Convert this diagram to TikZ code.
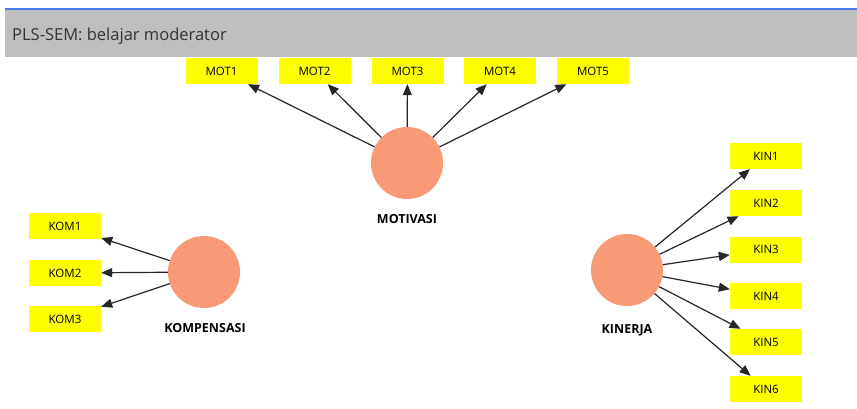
\documentclass[tikz,border=0pt]{standalone}
\usepackage{fontspec}
\setmainfont{Open Sans}
\usetikzlibrary{arrows.meta}
\definecolor{latentfill}{RGB}{249,154,118}
\definecolor{indfill}{RGB}{255,255,0}
\definecolor{barfill}{RGB}{190,190,190}
\definecolor{barline}{RGB}{70,120,230}
\tikzset{
  indicator/.style={rectangle, fill=indfill, minimum width=72pt, minimum height=26pt,
    inner sep=0pt, font=\fontsize{11.5}{13}\selectfont},
  latent/.style={circle, fill=latentfill, minimum size=72pt, inner sep=0pt},
  lvlabel/.style={font=\fontsize{12.5}{14}\selectfont\bfseries, inner sep=0pt},
  loading/.style={-{Triangle[length=11pt,width=9pt]}, line width=1.2pt, black!85},
}
\begin{document}
\begin{tikzpicture}[x=1pt,y=-1pt]
  \useasboundingbox (0,0) rectangle (857,409);
  \fill[white] (0,0) rectangle (857,409);
  % title bar
  \fill[barfill] (5,10) rectangle (857,57);
  \fill[barline] (5,8.5) rectangle (857,10.5);
  \node[anchor=west, inner sep=0pt, font=\fontsize{16.5}{19}\selectfont, text=black!80] (title) at (12,36) {PLS-SEM: belajar moderator};

  % latent variables
  \node[latent] (mot) at (407,163) {};
  \node[latent] (kom) at (204,272) {};
  \node[latent] (kin) at (627,270) {};
  \node[lvlabel] (motlab) at (407,219) {MOTIVASI};
  \node[lvlabel] (komlab) at (205,328) {KOMPENSASI};
  \node[lvlabel] (kinlab) at (627,330) {KINERJA};

  % indicators of MOTIVASI
  \node[indicator] (mot1) at (221.5,71) {MOT1};
  \node[indicator] (mot2) at (314.5,71) {MOT2};
  \node[indicator] (mot3) at (407.5,71) {MOT3};
  \node[indicator] (mot4) at (500,71) {MOT4};
  \node[indicator] (mot5) at (593,71) {MOT5};

  % indicators of KOMPENSASI
  \node[indicator] (kom1) at (65,226) {KOM1};
  \node[indicator] (kom2) at (65,273) {KOM2};
  \node[indicator] (kom3) at (65,319) {KOM3};

  % indicators of KINERJA
  \node[indicator] (kin1) at (766,156) {KIN1};
  \node[indicator] (kin2) at (766,203) {KIN2};
  \node[indicator] (kin3) at (766,249.5) {KIN3};
  \node[indicator] (kin4) at (766,296) {KIN4};
  \node[indicator] (kin5) at (766,342) {KIN5};
  \node[indicator] (kin6) at (766,389) {KIN6};

  % outer loadings
  \foreach \i in {1,...,5} \draw[loading] (mot) -- (mot\i);
  \foreach \i in {1,...,3} \draw[loading] (kom) -- (kom\i);
  \foreach \i in {1,...,6} \draw[loading] (kin) -- (kin\i);
\end{tikzpicture}
\end{document}
